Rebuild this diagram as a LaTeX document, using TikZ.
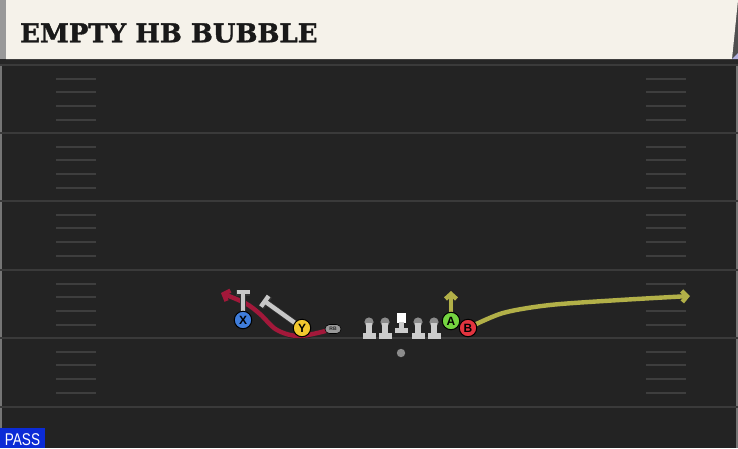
\documentclass[tikz,border=0pt]{standalone}
\usepackage{fontspec}
\setsansfont{Liberation Sans}
\newfontfamily\titlefont[FakeBold=1.5]{DejaVu Serif Bold}
\usetikzlibrary{arrows.meta,shapes.misc}
\definecolor{fieldbg}{HTML}{232323}
\definecolor{yardline}{HTML}{3A3A3A}
\definecolor{hashc}{HTML}{3E3E3E}
\definecolor{cream}{HTML}{F5F2EA}
\definecolor{routered}{HTML}{A3183A}
\definecolor{olive}{HTML}{B2B048}
\definecolor{xblue}{HTML}{3F7DDB}
\definecolor{yyellow}{HTML}{F2C82E}
\definecolor{agreen}{HTML}{74D440}
\definecolor{bred}{HTML}{E2343F}
\definecolor{blockgray}{HTML}{C8C8C8}
\definecolor{passblue}{HTML}{0B2BD6}
\tikzset{
  player/.style={circle, draw=black, line width=1pt, minimum size=17.5pt, inner sep=0pt,
    font=\sffamily\bfseries\fontsize{12}{12}\selectfont},
  yard/.style={draw=yardline, line width=2pt},
  hashmark/.style={draw=hashc, line width=1.6pt},
  route/.style={line width=4.4pt, line cap=round, preaction={draw=black!85, line width=6pt}},
  blockline/.style={draw=blockgray, line width=4.4pt, -{Bar[width=13pt]},
    preaction={draw=black!80, line width=6pt, -{Bar[width=14pt]}}},
  lmhead/.style={fill=black!45},
  lmbody/.style={fill=black!20},
}
\tikzset{olman/.pic={
  \fill[lmhead] (0,-4) circle (4.6);
  \fill[lmbody] (-2.8,-3) rectangle (2.8,8);
  \fill[lmbody] (-6.5,7) rectangle (6.5,12.5);
}}
\begin{document}
\begin{tikzpicture}[x=1pt,y=-1pt]
\useasboundingbox (0,0) rectangle (738,448);
\fill[fieldbg] (0,0) rectangle (738,448);
\fill[yardline!70] (0,59) rectangle (2,448);
\fill[yardline!70] (736,59) rectangle (738,448);
% yard lines
\foreach \y in {65,133,201,270,338,407} \draw[yard] (0,\y) -- (738,\y);
% hash marks
\foreach \y in {65,133,201,270,338} {
  \foreach \d in {14,27,41,55} {
    \draw[hashmark] (56,\y+\d) -- (96,\y+\d);
    \draw[hashmark] (646,\y+\d) -- (686,\y+\d);
  }
}
% header
\fill[black!85] (0,59) rectangle (738,64);
\fill[black!40] (0,0) rectangle (6,59);
\fill[fieldbg!80] (732,0) rectangle (738,59);
\fill[cream] (6,0) -- (738,0) -- (732,59) -- (6,59) -- cycle;
\fill[black!40!blue!30] (732,59) -- (738,53) -- (738,59) -- cycle;
\node[anchor=west, inner sep=0pt, text=black!90, font=\titlefont\fontsize{26}{26}\selectfont] (title) at (20,33) {EMPTY HB BUBBLE};
% pass badge
\fill[passblue] (0,428) rectangle (45,448);
\node[text=white, inner sep=0pt, font=\sffamily\fontsize{17}{17}\selectfont, xscale=0.8] (pass) at (22.5,439.5) {PASS};
% coordinates for route ends
\coordinate (redend) at (221,293);
\coordinate (r1) at (300,336);
\coordinate (r2) at (277,330);
\coordinate (r3) at (260,314);
\coordinate (r4) at (245,303);
\coordinate (aend) at (451,291);
\coordinate (b1) at (503,313);
\coordinate (b2) at (550,305);
\coordinate (b3) at (620,300);
\coordinate (bend) at (690,296);
\coordinate (xblk) at (243,290);
\coordinate (yblk) at (263,300);
\coordinate (rbpos) at (333,329);
\coordinate (xpos) at (243,320);
\coordinate (ypos) at (302,328);
\coordinate (apos) at (451,321);
\coordinate (bpos) at (468,328);
% red route
\draw[route, routered, -{Straight Barb[length=5pt,width=11pt]}]
  plot[smooth, tension=0.55] coordinates {(rbpos) (r1) (r2) (r3) (r4) (redend)};
% olive routes
\draw[route, olive, -{Straight Barb[length=5pt,width=11pt]}] (apos) -- (aend);
\draw[route, olive, -{Straight Barb[length=5pt,width=11pt]}]
  plot[smooth, tension=0.5] coordinates {(bpos) (b1) (b2) (b3) (bend)};
% blocks
\draw[blockline] (xpos) -- (xblk);
\draw[blockline] (ypos) -- (yblk);
% linemen
\foreach \lx in {369,385,418,434} \pic at (\lx,326) {olman};
\fill[white] (397,313) rectangle (406,323);
\fill[lmbody] (398.7,322) rectangle (404.3,330);
\fill[lmbody] (395,328) rectangle (408,333);
% players
\node[player, fill=xblue] (x) at (xpos) {X};
\node[player, fill=yyellow] (y) at (ypos) {Y};
\node[player, fill=agreen] (a) at (apos) {A};
\node[player, fill=bred] (b) at (bpos) {B};
\node[rounded rectangle, draw=black, line width=0.6pt, fill=black!40, minimum width=16pt, minimum height=9pt, inner sep=0pt,
  font=\sffamily\bfseries\fontsize{5}{5}\selectfont, text=black!85] (rb) at (rbpos) {RB};
\fill[black!45] (401,353) circle (4.2) coordinate (qb);
\end{tikzpicture}
\end{document}
